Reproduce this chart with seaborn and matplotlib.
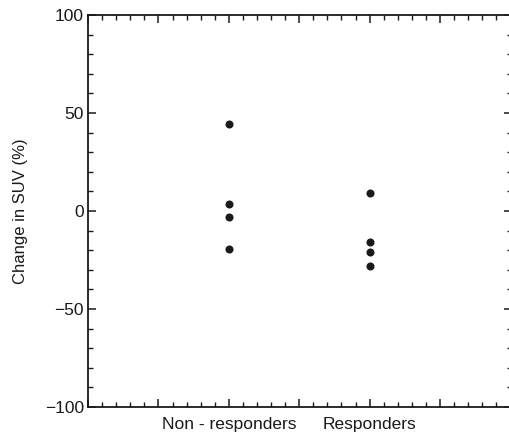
import numpy as np
import pandas as pd
import matplotlib
matplotlib.use("Agg")
import matplotlib.pyplot as plt
from matplotlib.ticker import MultipleLocator, FixedLocator
import seaborn as sns

groups = ["Non-responders", "Responders"]
non_resp = [44.4, 3.6, -3.1, -19.4]
resp = [9.3, -16.0, -21.0, -27.9]

df = pd.DataFrame({
    "group": [groups[0]] * len(non_resp) + [groups[1]] * len(resp),
    "change": non_resp + resp,
})

sns.set_style("ticks")
plt.rcParams["font.family"] = ["Liberation Sans", "DejaVu Sans"]

fig = plt.figure(figsize=(5.09, 4.40), dpi=100)
ax = fig.add_axes([0.173, 0.075, 0.8325, 0.891])

sns.stripplot(data=df, x="group", y="change", order=groups, jitter=False,
              color="#1a1a1a", size=5.8, ax=ax, zorder=3)

ax.set_xlim(-1, 2.01)
ax.set_ylim(-100, 100)
ax.xaxis.set_major_locator(FixedLocator([-1, -0.5, 0, 0.5, 1, 1.5, 2]))
ax.set_xticklabels(["", "", "Non - responders", "", groups[1], "", ""])
ax.xaxis.set_minor_locator(MultipleLocator(0.1))
ax.yaxis.set_major_locator(MultipleLocator(50))
ax.yaxis.set_minor_locator(MultipleLocator(10))

ax.tick_params(which="both", direction="in", top=True, right=True,
               color="#1a1a1a", labelsize=12.5, labelcolor="#1a1a1a")
ax.tick_params(which="major", length=6, width=1.1, pad=3)
ax.tick_params(which="minor", length=3.6, width=1.0)
ax.tick_params(axis="x", which="major", pad=7)
for s in ax.spines.values():
    s.set_linewidth(1.3)
    s.set_color("#1a1a1a")

ax.set_xlabel("")
ax.set_ylabel("Change in SUV (%)", fontsize=12, color="#1a1a1a", labelpad=12)

fig.savefig("out.png", dpi=100)
